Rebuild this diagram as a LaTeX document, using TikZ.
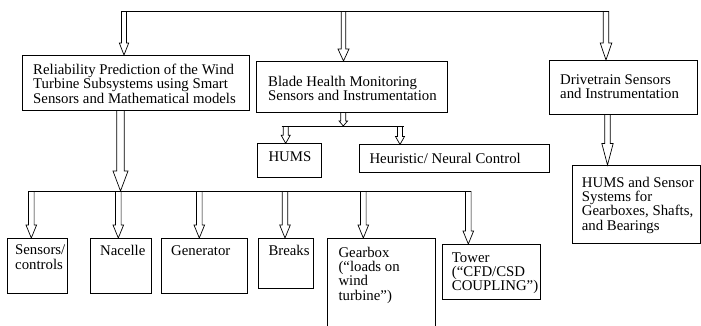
\documentclass[tikz,border=0pt]{standalone}
\usepackage{fontspec}
\setmainfont{Liberation Serif}
\usepackage{tikz}
\usetikzlibrary{calc}

% hollow block arrow pointing down: {from}{tip}{shaft half}{head half}{head length}
\newcommand{\hollowdown}[5]{%
	\draw [hollow] let \p1=#1, \p2=#2 in
	(\x2-#3,\y1) -- (\x2-#3,\y2+#5) -- (\x2-#4,\y2+#5) -- (\x2,\y2)
	-- (\x2+#4,\y2+#5) -- (\x2+#3,\y2+#5) -- (\x2+#3,\y1) ;}

\tikzset{
	box/.style={draw, line width=0.7pt, rectangle, inner sep=0pt, outer sep=0pt, anchor=north west},
	txt/.style={anchor=north west, inner sep=0pt, align=left, font=\fontsize{14.8}{14.4}\selectfont, execute at begin node=\strut},
	hollow/.style={line width=0.7pt, line join=miter},
	bus/.style={line width=0.7pt}
}

\begin{document}
\begin{tikzpicture}[x=1pt,y=-1pt]
	\useasboundingbox (0,0) rectangle (701,325);
	
	%Shape: Rectangle (top row)
	\node [box, minimum width=227pt, minimum height=55pt] (reliab) at (22,55) {};
	\node [box, minimum width=191pt, minimum height=51pt] (blade) at (256,61) {};
	\node [box, minimum width=148pt, minimum height=54pt] (drive) at (549,60) {};
	%Shape: Rectangle (middle row)
	\node [box, minimum width=64.4pt, minimum height=34.4pt] (hums) at (257.3,143.3) {};
	\node [box, minimum width=190pt, minimum height=27.5pt] (heur) at (359,144.5) {};
	\node [box, minimum width=128pt, minimum height=78pt] (hsens) at (572,165) {};
	%Shape: Rectangle (bottom row)
	\node [box, minimum width=60pt, minimum height=55pt] (sensors) at (7,238) {};
	\node [box, minimum width=61pt, minimum height=55pt] (nacelle) at (90,238) {};
	\node [box, minimum width=86pt, minimum height=55pt] (generator) at (161,238) {};
	\node [box, minimum width=55pt, minimum height=50pt] (breaks) at (258,238) {};
	\node [box, minimum width=108pt, minimum height=100pt] (gearbox) at (327,238) {};
	\node [box, minimum width=98pt, minimum height=55pt] (tower) at (442,244) {};
	
	% Text Node
	\node [txt] (reliabtxt) at ($(reliab.north west)+(11,8.9)$) {Reliability Prediction of the Wind\\Turbine Subsystems using Smart\\Sensors and Mathematical models};
	% Text Node
	\node [txt] (bladetxt) at ($(blade.north west)+(12,14.7)$) {Blade Health Monitoring\\Sensors and Instrumentation};
	% Text Node
	\node [txt] (drivetxt) at ($(drive.north west)+(11,14.4)$) {Drivetrain Sensors\\and Instrumentation};
	% Text Node
	\node [txt] (humstxt) at ($(hums.north west)+(11,8.3)$) {HUMS};
	% Text Node
	\node [txt] (heurtxt) at ($(heur.north west)+(10.3,8.7)$) {Heuristic/ Neural Control};
	% Text Node
	\node [txt] (hsenstxt) at ($(hsens.north west)+(9.7,11.6)$) {HUMS and Sensor\\Systems for\\Gearboxes, Shafts,\\and Bearings};
	% Text Node
	\node [txt] (sensorstxt) at ($(sensors.north west)+(8,6.9)$) {Sensors/\\controls};
	% Text Node
	\node [txt] (nacelletxt) at ($(nacelle.north west)+(10,6.9)$) {Nacelle};
	% Text Node
	\node [txt] (generatortxt) at ($(generator.north west)+(10,6.9)$) {Generator};
	% Text Node
	\node [txt] (breakstxt) at ($(breaks.north west)+(10.3,6.9)$) {Breaks};
	% Text Node
	\node [txt] (gearboxtxt) at ($(gearbox.north west)+(11.3,8.6)$) {Gearbox\\(“loads on\\wind\\turbine”)};
	% Text Node
	\node [txt] (towertxt) at ($(tower.north west)+(9.7,8.2)$) {Tower\\(“CFD/CSD\\COUPLING”)};
	
	%Straight Lines (top bus)
	\coordinate (topbusL) at (121.5,11);
	\coordinate (topbusR) at (608.5,11);
	\draw [bus] (topbusL) -- (topbusR);
	\coordinate (reliabin) at ($(reliab.north west)+(102,0)$);
	\coordinate (bladein) at ($(blade.north west)+(87.5,0)$);
	\coordinate (drivein) at ($(drive.north west)+(57,0)$);
	\hollowdown{(topbusL)}{(reliabin)}{2.5pt}{4.7pt}{12pt}
	\hollowdown{(topbusL)}{(bladein)}{2.2pt}{5.5pt}{12pt}
	\hollowdown{(topbusL)}{(drivein)}{2.7pt}{5.8pt}{17pt}
	
	%Straight Lines (blade branch)
	\coordinate (bladeout) at ($(blade.south west)+(87.3,0)$);
	\coordinate (bladebusL) at (281.7,126);
	\coordinate (bladebusR) at (404,126);
	\draw [bus] (bladebusL) -- (bladebusR);
	\hollowdown{(bladeout)}{(bladeout |- bladebusL)}{2.5pt}{4.2pt}{5pt}
	\coordinate (humsin) at ($(hums.north west)+(28.4,0)$);
	\coordinate (heurin) at ($(heur.north west)+(41,0)$);
	\hollowdown{(bladebusL)}{(humsin)}{2.5pt}{4.5pt}{8pt}
	\hollowdown{(bladebusL)}{(heurin)}{2.5pt}{4.5pt}{8pt}
	
	%Straight Lines (drivetrain branch)
	\coordinate (driveout) at ($(drive.south west)+(58.5,0)$);
	\hollowdown{(driveout)}{(driveout |- hsens.north)}{2.7pt}{5.7pt}{21.6pt}
	
	%Straight Lines (reliability branch)
	\coordinate (reliabout) at ($(reliab.south west)+(98.5,0)$);
	\coordinate (lowbusL) at (29,191);
	\coordinate (lowbusR) at (470.8,191);
	\draw [bus] (lowbusL) -- (lowbusR);
	\hollowdown{(reliabout)}{(reliabout |- lowbusL)}{3.8pt}{7.5pt}{20pt}
	\coordinate (sensorsin) at ($(sensors.north west)+(24.3,0)$);
	\coordinate (nacellein) at ($(nacelle.north west)+(28.3,0)$);
	\coordinate (generatorin) at ($(generator.north west)+(38.3,0)$);
	\coordinate (breaksin) at ($(breaks.north west)+(27,0)$);
	\coordinate (gearboxin) at ($(gearbox.north west)+(36.3,0)$);
	\coordinate (towerin) at ($(tower.north west)+(26.3,0)$);
	\hollowdown{(lowbusL)}{(sensorsin)}{2.8pt}{5.3pt}{13pt}
	\hollowdown{(lowbusL)}{(nacellein)}{2.8pt}{5.3pt}{13pt}
	\hollowdown{(lowbusL)}{(generatorin)}{2.8pt}{5.3pt}{13pt}
	\hollowdown{(lowbusL)}{(breaksin)}{2.8pt}{5.3pt}{13pt}
	\hollowdown{(lowbusL)}{(gearboxin)}{2.8pt}{5.3pt}{13pt}
	\hollowdown{(lowbusL)}{(towerin)}{2.8pt}{5.3pt}{13pt}
	
\end{tikzpicture}
\end{document}
